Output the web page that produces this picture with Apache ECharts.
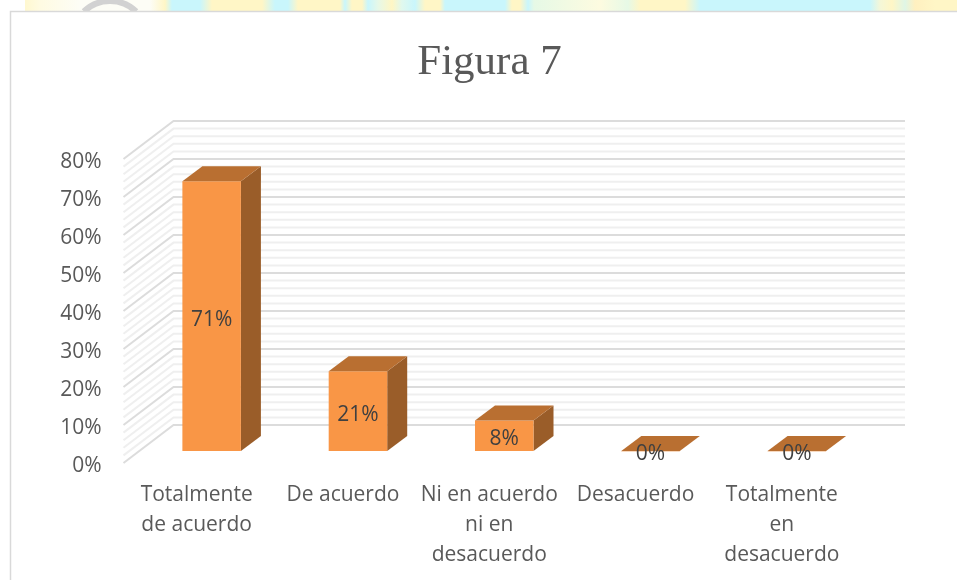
<!DOCTYPE html>
<html><head><meta charset="utf-8">
<style>html,body{margin:0;padding:0;background:#fff}#c{width:957px;height:580px}</style>
<script src="https://cdn.jsdelivr.net/npm/echarts@6/dist/echarts.min.js"></script>
</head><body><div id="c"></div>
<script>
var categories = ['Totalmente\nde acuerdo','De acuerdo','Ni en acuerdo\nni en\ndesacuerdo','Desacuerdo','Totalmente\nen\ndesacuerdo'];
var values = [71,21,8,0,0];
var majorTicks = [0,10,20,30,40,50,60,70,80];
var minorTicks = [2,4,6,8,12,14,16,18,22,24,26,28,32,34,36,38,42,44,46,48,52,54,56,58,62,64,66,68,72,74,76,78];
var titleText = 'Figura 7';

var chart = echarts.init(document.getElementById('c'), null, {renderer:'canvas'});
var WALL = [50,-38], FRONT = [15,-12], DEPTH = [20,-15];
var W = 957;

function gridItem(color, width){
  return function(params, api){
    var cs = params.coordSys;
    var p = api.coord([0, api.value(0)]);
    var y = p[1];
    return {type:'polyline', silent:true,
      shape:{points:[[cs.x,y],[cs.x+WALL[0],y+WALL[1]],[cs.x+cs.width+WALL[0],y+WALL[1]]]},
      style:{stroke:color,lineWidth:width,fill:null}};
  };
}
function barItem(params, api){
  var c = api.coord([api.value(0), api.value(1)]);
  var b = api.coord([api.value(0), 0]);
  var w = api.size([1,0])[0]*0.4;
  var l = c[0]-w/2+FRONT[0], r = l+w, t = c[1]+FRONT[1], bt = b[1]+FRONT[1];
  var dx = DEPTH[0], dy = DEPTH[1];
  var kids = [];
  if (bt-t > 0.5){
    kids.push({type:'polygon',shape:{points:[[r,t],[r+dx,t+dy],[r+dx,bt+dy],[r,bt]]},style:{fill:'#9a5d29'}});
    kids.push({type:'rect',shape:{x:l,y:t,width:w,height:bt-t},style:{fill:'#f99646'}});
  } else {
    kids.push({type:'line',shape:{x1:l,y1:bt+0.5,x2:r,y2:bt+0.5},style:{stroke:'#f7d9c0',lineWidth:1}});
  }
  kids.push({type:'polygon',shape:{points:[[l,t],[l+dx,t+dy],[r+dx,t+dy],[r,t]]},style:{fill:'#b96f31'}});
  kids.push({type:'text',style:{text:api.value(1)+'%',x:l+w/2,y:(t+bt)/2+3.5,align:'center',verticalAlign:'middle',
    fill:'#404040',font:'21px "Open Sans"'}});
  return {type:'group',children:kids};
}
var Y='#fff6c6', C='#c9f6fc', P='#fdfbe0', F='#fdfdf6';
var stripStops = [[25,'#fff8d0'],[40,'#fffbe2'],[80,F],[150,F],[165,Y],[172,C],[200,C],[212,Y],[262,Y],[275,C],[288,C],[298,Y],[340,Y],[345,C],[352,Y],[362,Y],[368,C],[378,'#e6f8e8'],[392,'#fff6c4'],[402,'#e0f8ee'],[415,C],[425,Y],[440,Y],[445,C],[505,C],[512,Y],[520,Y],[528,C],[534,'#e6f9e6'],[600,P],[628,'#e6f9e6'],[640,Y],[685,Y],[700,C],[870,C],[880,'#f4f7d8'],[892,Y],[905,'#dff6e6'],[915,'#fff0c0'],[935,Y],[957,Y]];
chart.setOption({
  animation:false,
  backgroundColor:'#fff',
  title:{text:titleText,left:484.5,top:36,textAlign:'center',
    textStyle:{fontFamily:'"Liberation Serif"',fontSize:43,fontWeight:'normal',color:'#595959'}},
  grid:{left:123.5,right:957-855,top:159,bottom:580-463,containLabel:false},
  xAxis:{type:'category',data:categories,axisLine:{show:false},axisTick:{show:false},
    axisLabel:{interval:0,margin:17,lineHeight:30,color:'#595959',fontSize:21,fontFamily:'"Open Sans"'}},
  yAxis:{type:'value',min:0,max:80,interval:10,splitLine:{show:false},axisLine:{show:false},axisTick:{show:false},
    axisLabel:{formatter:'{value}%',margin:22,color:'#595959',fontSize:21,fontFamily:'"Open Sans"',verticalAlign:'top',lineHeight:6}},
  series:[
    {type:'custom',renderItem:gridItem('#efefef',2),data:minorTicks.map(function(v){return [v];}),encode:{y:0},silent:true,z:1},
    {type:'custom',renderItem:gridItem('#dcdcdc',2),data:majorTicks.map(function(v){return [v];}),encode:{y:0},silent:true,z:2},
    {type:'custom',renderItem:barItem,data:values.map(function(v,i){return [i,v];}),encode:{x:0,y:1},z:3}
  ],
  graphic:[
    {type:'rect',z:-3,shape:{x:25,y:0,width:W-25,height:11},style:{fill:{type:'linear',x:0,y:0,x2:1,y2:0,
      colorStops:stripStops.map(function(s){return {offset:(s[0]-25)/(W-25),color:s[1]};})}}},
    {type:'arc',z:-2,shape:{cx:110,cy:39,r:38,startAngle:-Math.PI/2-0.76,endAngle:-Math.PI/2+0.76},style:{stroke:'#d2d2d2',lineWidth:6,fill:null}},
    {type:'rect',z:-1,shape:{x:0,y:11,width:W,height:569},style:{fill:'#fff'}},
    {type:'polyline',z:0,shape:{points:[[10.5,580],[10.5,11.5],[W,11.5]]},style:{stroke:'#d9d9d9',lineWidth:1.5,fill:null}}
  ]
});
</script></body></html>
